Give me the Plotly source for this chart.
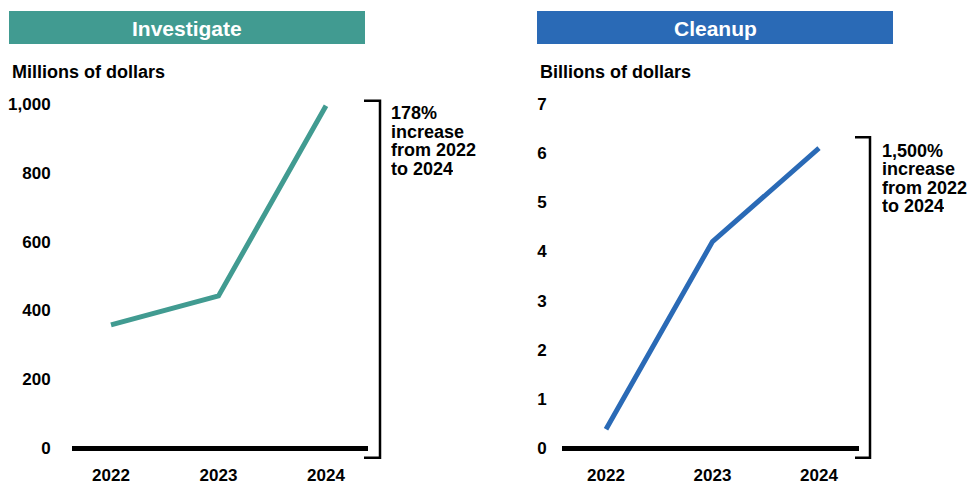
import plotly.graph_objects as go

# ---- data ----
years = ["2022", "2023", "2024"]
investigate_millions = [358, 442, 995]
cleanup_billions = [0.38, 4.2, 6.1]
left_ticks = [0, 200, 400, 600, 800, 1000]
left_ticktext = ["0", "200", "400", "600", "800", "1,000"]
right_ticks = [0, 1, 2, 3, 4, 5, 6, 7]
left_note = ["178%", "increase", "from 2022", "to 2024"]
right_note = ["1,500%", "increase", "from 2022", "to 2024"]
left_title = "Investigate"
right_title = "Cleanup"
left_unit = "Millions of dollars"
right_unit = "Billions of dollars"

W, H = 969, 484
TEAL = "#419B91"
BLUE = "#2A6AB6"
FONT = "Liberation Sans, Arial, sans-serif"


def px(x):
    return x / W


def py(y):
    return (H - y) / H


# pixel geometry of plot areas
y0_px, top_px = 448, 94
left_x = (72, 368)
right_x = (562, 859)
left_scale = (448 - 104) / 1000.0
right_scale = (448 - 104) / 7.0

fig = go.Figure()
fig.add_trace(go.Scatter(x=[0, 1, 2], y=investigate_millions, mode="lines",
                         line=dict(color=TEAL, width=5), xaxis="x", yaxis="y",
                         hoverinfo="skip"))
fig.add_trace(go.Scatter(x=[0, 1, 2], y=cleanup_billions, mode="lines",
                         line=dict(color=BLUE, width=5), xaxis="x2", yaxis="y2",
                         hoverinfo="skip"))

tickfont = dict(family=FONT, size=17, color="black", weight="bold")
common_x = dict(tickmode="array", tickvals=[0, 1, 2], ticktext=years,
                showgrid=False, zeroline=False, showline=False, automargin=False,
                ticks="outside", ticklen=12, tickcolor="rgba(0,0,0,0)",
                tickfont=tickfont, fixedrange=True)
common_y = dict(showgrid=False, showline=False, zeroline=True, automargin=False,
                zerolinecolor="black", zerolinewidth=5,
                ticks="outside", tickcolor="rgba(0,0,0,0)",
                tickfont=tickfont, fixedrange=True)

fig.update_layout(
    template="none",
    width=W, height=H, autosize=False,
    margin=dict(l=0, r=0, t=0, b=0, pad=0),
    paper_bgcolor="white", plot_bgcolor="white",
    showlegend=False,
    xaxis=dict(domain=[px(left_x[0]), px(left_x[1])],
               range=[-(111 - 72) / 107.5, (368 - 111) / 107.5], anchor="y", **common_x),
    xaxis2=dict(domain=[px(right_x[0]), px(right_x[1])],
                range=[-(606 - 562) / 106.5, (859 - 606) / 106.5], anchor="y2", **common_x),
    yaxis=dict(domain=[py(y0_px), py(top_px)], anchor="x",
               range=[0, (y0_px - top_px) / left_scale],
               tickmode="array", tickvals=left_ticks, ticktext=left_ticktext,
               ticklen=17, **common_y),
    yaxis2=dict(domain=[py(y0_px), py(top_px)], anchor="x2",
                range=[0, (y0_px - top_px) / right_scale],
                tickmode="array", tickvals=right_ticks,
                ticklen=11, **common_y),
)

shapes = []
annots = []
# header bars
for (x0, x1), col, title in [((9, 365), TEAL, left_title), ((537, 893), BLUE, right_title)]:
    shapes.append(dict(type="rect", xref="paper", yref="paper",
                       x0=px(x0), x1=px(x1), y0=py(44), y1=py(11),
                       fillcolor=col, line=dict(width=0), layer="below"))
    annots.append(dict(xref="paper", yref="paper", x=px((x0 + x1) / 2), y=py(28),
                       text=title, showarrow=False, xanchor="center", yanchor="middle",
                       font=dict(family=FONT, size=21, color="white", weight="bold")))

# unit labels
for x, t in [(10, left_unit), (538, right_unit)]:
    annots.append(dict(xref="paper", yref="paper", x=px(x), y=py(72), text=t,
                       showarrow=False, xanchor="left", yanchor="middle",
                       font=dict(family=FONT, size=18, color="black", weight="bold")))

# brackets
for xv, xh, ytop, ybot in [(380, 364, 100.7, 457.7), (870, 855, 137.3, 457.7)]:
    shapes.append(dict(type="path", xref="paper", yref="paper",
                       path=f"M {px(xh)},{py(ytop)} L {px(xv)},{py(ytop)} L {px(xv)},{py(ybot)} L {px(xh)},{py(ybot)}",
                       line=dict(color="black", width=2.5)))

# bracket notes
for x, yfirst, lines in [(389, 113, left_note), (880, 150.7, right_note)]:
    for i, t in enumerate(lines):
        annots.append(dict(xref="paper", yref="paper", x=px(x), y=py(yfirst + 18.5 * i),
                           text=t, showarrow=False, xanchor="left", yanchor="middle",
                           height=18, valign="middle",
                           font=dict(family=FONT, size=18, color="black", weight="bold")))

fig.update_layout(shapes=shapes, annotations=annots)
fig.write_html("out.html", config={"displayModeBar": False},
               post_script="document.body.style.margin='0';document.body.style.padding='0';")
